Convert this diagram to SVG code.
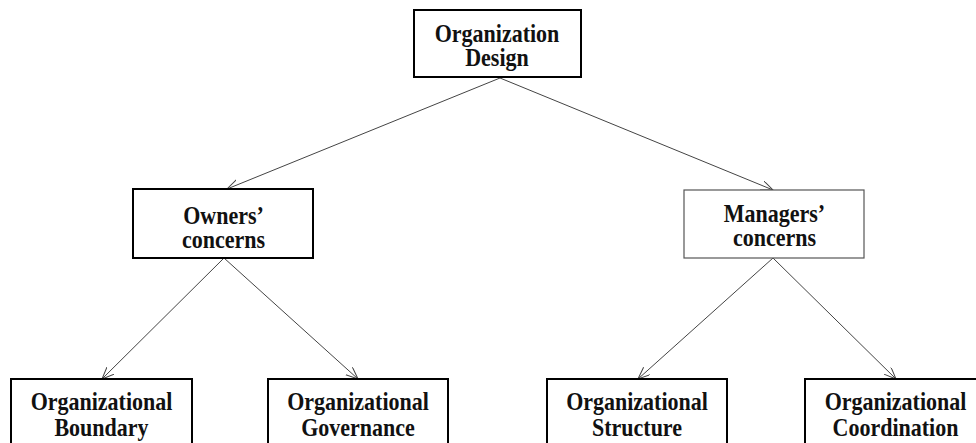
<svg xmlns="http://www.w3.org/2000/svg" width="976" height="443" viewBox="0 0 976 443">
<style>
.box{fill:#fff;stroke:#000;stroke-width:2}
.thin{fill:#fff;stroke:#555;stroke-width:1.2}
.t{font-family:"Liberation Serif","Times New Roman",serif;font-weight:bold;font-size:22px;fill:#111;text-anchor:middle}
.c{stroke:#444;stroke-width:1;fill:none;marker-end:url(#ah)}
</style>
<defs>
<marker id="ah" markerWidth="14" markerHeight="12" refX="12" refY="5" orient="auto" markerUnits="userSpaceOnUse">
<path d="M0,0 L12,5 L0,10" fill="none" stroke="#444" stroke-width="1"/>
</marker>
</defs>
<rect width="976" height="443" fill="#fff"/>
<g id="connectors">
<line class="c" x1="500" y1="78" x2="227" y2="189"/>
<line class="c" x1="500" y1="78" x2="773" y2="190"/>
<line class="c" x1="224" y1="258" x2="102" y2="379"/>
<line class="c" x1="224" y1="258" x2="358" y2="379"/>
<line class="c" x1="773" y1="258" x2="638" y2="379"/>
<line class="c" x1="773" y1="258" x2="896" y2="379"/>
</g>
<g id="organization-design">
<rect class="box" x="414" y="10" width="167" height="67"/>
<text class="t" transform="translate(497,42) scale(1,1.16)"><tspan x="0" y="0">Organization</tspan><tspan x="0" y="20.7">Design</tspan></text>
</g>
<g id="owners-concerns">
<rect class="box" x="133" y="189" width="180" height="69"/>
<text class="t" transform="translate(223.5,224) scale(1,1.16)"><tspan x="0" y="0">Owners’</tspan><tspan x="0" y="20.7">concerns</tspan></text>
</g>
<g id="managers-concerns">
<rect class="thin" x="684" y="190" width="180" height="68"/>
<text class="t" transform="translate(774.5,222) scale(1,1.16)"><tspan x="0" y="0">Managers’</tspan><tspan x="0" y="20.7">concerns</tspan></text>
</g>
<g id="organizational-boundary">
<rect class="box" x="11" y="379" width="181" height="80"/>
<text class="t" transform="translate(101.5,410) scale(1,1.16)"><tspan x="0" y="0">Organizational</tspan><tspan x="0" y="22.4">Boundary</tspan></text>
</g>
<g id="organizational-governance">
<rect class="box" x="268" y="379" width="180" height="80"/>
<text class="t" transform="translate(358,410) scale(1,1.16)"><tspan x="0" y="0">Organizational</tspan><tspan x="0" y="22.4">Governance</tspan></text>
</g>
<g id="organizational-structure">
<rect class="box" x="547" y="379" width="180" height="80"/>
<text class="t" transform="translate(637,410) scale(1,1.16)"><tspan x="0" y="0">Organizational</tspan><tspan x="0" y="22.4">Structure</tspan></text>
</g>
<g id="organizational-coordination">
<rect class="box" x="805" y="379" width="181" height="80"/>
<text class="t" transform="translate(895.5,410) scale(1,1.16)"><tspan x="0" y="0">Organizational</tspan><tspan x="0" y="22.4">Coordination</tspan></text>
</g>
</svg>
